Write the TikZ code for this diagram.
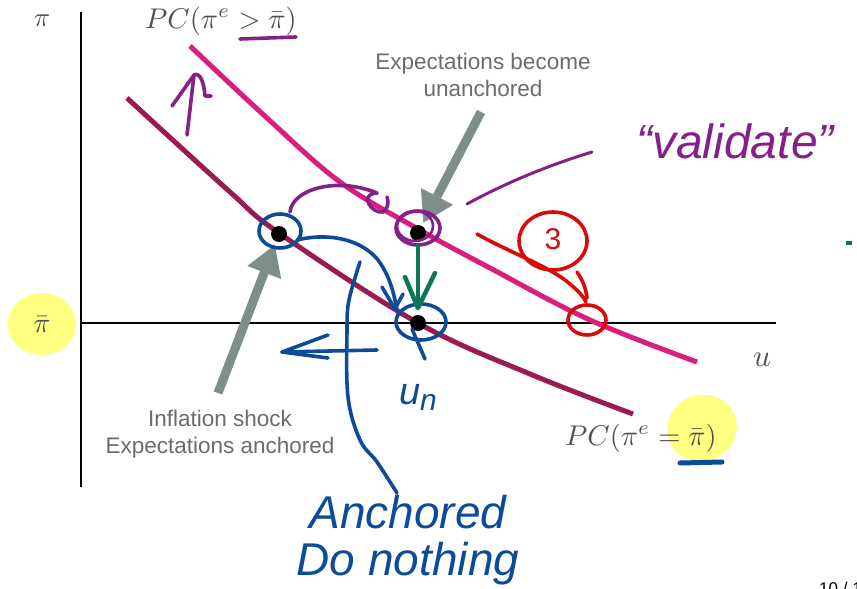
\documentclass[tikz,border=0pt]{standalone}
\usepackage{fontspec}
\usepackage{graphicx}
\newfontfamily\labfont{Liberation Sans}
\newfontfamily\handfont{Liberation Sans}
\usetikzlibrary{arrows.meta}
\definecolor{pcup}{HTML}{D81F7E}
\definecolor{pclow}{HTML}{9A1A52}
\definecolor{grayarr}{HTML}{7E8E8B}
\definecolor{graytxt}{HTML}{6B6B6B}
\definecolor{mathgray}{HTML}{505050}
\definecolor{hpurple}{HTML}{852089}
\definecolor{hblue}{HTML}{0B4B98}
\definecolor{hred}{HTML}{D80A0A}
\definecolor{hgreen}{HTML}{0D7656}
\definecolor{hyellow}{HTML}{FFFF80}
\tikzset{
  axisline/.style={line width=2.2pt,black},
  pccurve/.style={line width=5pt},
  dot/.style={circle,fill=black,minimum size=16pt,inner sep=0pt},
  grayarrow/.style={grayarr,line width=9pt,-{Triangle[length=30pt,width=34pt]},shorten >=3pt},
  graylabel/.style={font=\labfont\fontsize{22.5}{27}\selectfont,text=graytxt,align=center,inner sep=0pt},
  mathlabel/.style={text=mathgray,inner sep=0pt},
  hand/.style={line width=3.6pt,line cap=round,line join=round},
  handtext/.style={font=\handfont\itshape,inner sep=0pt},
  highlight/.style={fill=hyellow,draw=none}
}
\begin{document}
\begin{tikzpicture}[x=1pt,y=-1pt]
\useasboundingbox (0,0) rectangle (857,589);
\clip (0,0) rectangle (857,589);
% yellow highlights
\fill[highlight] (42,324) ellipse [x radius=34, y radius=31];
\fill[highlight,rotate around={20:(702,428)}] (702,428) ellipse [x radius=35, y radius=33];
% axes
\coordinate (ytop) at (81,12);
\coordinate (ybot) at (81,487);
\coordinate (xl) at (81,323);
\coordinate (xr) at (776,323);
\draw[axisline] (ytop) -- (ybot);
\draw[axisline] (xl) -- (xr);
% axis labels
\node[mathlabel] (pilab) at (42,21) {\scalebox{2.7}{$\pi$}};
\node[mathlabel] (ulab) at (762,360) {\scalebox{3.1}{$u$}};
\node[mathlabel] (pibar) at (42,325) {\scalebox{2.8}{$\bar{\pi}$}};
% curves
\draw[pccurve,pcup] plot[smooth,tension=0.6] coordinates {(190,46) (267,118) (340,182) (418,229) (490,268) (590,320) (697,362)};
\draw[pccurve,pclow] plot[smooth,tension=0.6] coordinates {(127,98) (230,192) (279,233) (418,323) (530,374) (633,414)};
% curve labels
\node[mathlabel] (pcuplab) at (221,21) {\scalebox{2.85}{$PC(\pi^e > \bar{\pi})$}};
\node[mathlabel] (pclowlab) at (641,438) {\scalebox{2.85}{$PC(\pi^e = \bar{\pi})$}};
% dots
\node[dot] (A) at (279,234) {};
\node[dot] (B) at (418,233) {};
\node[dot] (C) at (418,323) {};
% gray arrows and labels
\coordinate (g1) at (218,393);
\coordinate (g2) at (481,112);
\draw[grayarrow] (g1) -- (A);
\draw[grayarrow] (g2) -- (B);
\node[graylabel] (toplab) at (483,75) {Expectations become\\unanchored};
\node[graylabel] (botlab) at (220,434) {Inflation shock\\Expectations anchored};
% ---- handwriting ----
% purple
\draw[hand,hpurple] (240,39) -- (296,37);
\draw[hand,hpurple] (187,135) -- (194,75);
\draw[hand,hpurple] (172,106) -- (194,75) .. controls (200,72) and (204,82) .. (205,96) -- (211,96);
\draw[hand,hpurple] (290,212) .. controls (292,190) and (335,176) .. (377,193)
   .. controls (358,194) and (372,214) .. (383,212) .. controls (388,210) and (389,201) .. (387,197);
\draw[hand,hpurple] (418,228) ellipse [x radius=22, y radius=17];
\draw[hand,hpurple,line width=2.6pt] (415,226) ellipse [x radius=18, y radius=15];
\draw[hand,hpurple,line width=3pt] (467,204) .. controls (500,186) and (540,168) .. (592,152);
\node[handtext,text=hpurple,font=\handfont\itshape\fontsize{48}{50}\selectfont,anchor=base] (valid) at (735,158) {“validate”};
% blue
\draw[hand,hblue] (280,231) ellipse [x radius=21, y radius=17];
\draw[hand,hblue] (421,322) ellipse [x radius=25, y radius=18];
\draw[hand,hblue] (412,329) -- (425,359);
\draw[hand,hblue] (297,240) .. controls (330,232) and (362,240) .. (378,260) .. controls (390,276) and (394,294) .. (397,310);
\draw[hand,hblue] (382,287) -- (395,309) -- (403,294);
\draw[hand,hblue] plot[smooth,tension=0.6] coordinates {(360,262) (349,300) (347,330) (348,397) (360,440) (377,462) (397,493)};
\draw[hand,hblue] (377,350) -- (282,352);
\draw[hand,hblue] (328,335) -- (282,352) -- (328,358);
\draw[hand,hblue,line width=5pt] (680,463) -- (722,462);
\node[handtext,text=hblue,font=\handfont\itshape\fontsize{38}{40}\selectfont,anchor=base] (un) at (418,404) {u\raisebox{-6pt}{\fontsize{30}{32}\selectfont n}};
\node[handtext,text=hblue,font=\handfont\itshape\fontsize{46}{47}\selectfont,align=center] (anch) at (408,540) {Anchored\\Do nothing};
% green
\draw[hand,hgreen,line width=4.5pt] (418,245) -- (418,306);
\draw[hand,hgreen,line width=4.5pt] (405,277) -- (418,308) -- (435,273);
\fill[hgreen] (846,241) rectangle (852,245);
% red
\draw[hand,hred] (553,241) ellipse [x radius=34, y radius=29];
\node[handtext,text=hred,font=\handfont\fontsize{30}{32}\selectfont] (three) at (553,239) {3};
\draw[hand,hred] (477,234) .. controls (505,250) and (545,265) .. (565,280) .. controls (575,288) and (582,294) .. (586,302);
\draw[hand,hred] (577,272) .. controls (584,282) and (586,290) .. (587,298);
\draw[hand,hred] (587,320) ellipse [x radius=19, y radius=15];
% page number (cut off)
\node[anchor=north west,inner sep=0pt,font=\labfont\fontsize{17}{20}\selectfont] (pgnum) at (819,582) {10 / 12};
\end{tikzpicture}
\end{document}
